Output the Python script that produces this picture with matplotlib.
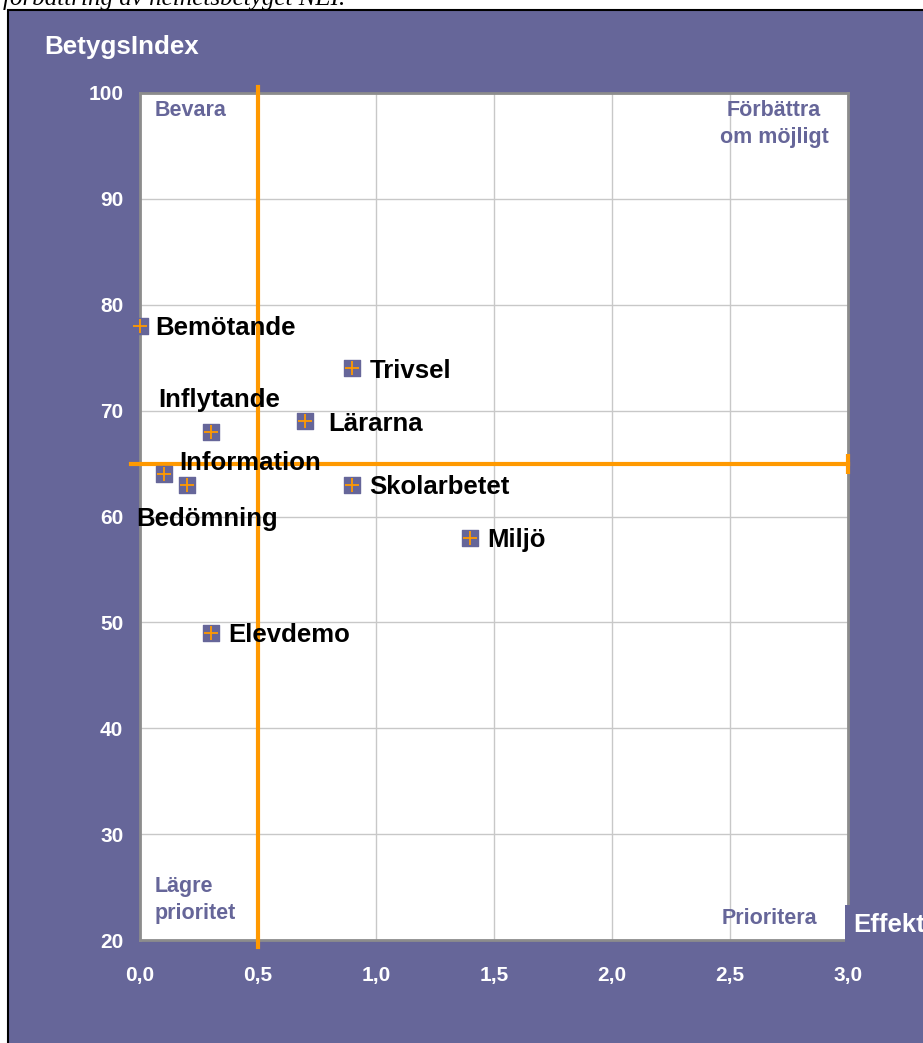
import matplotlib.pyplot as plt
from matplotlib.patches import Rectangle
from matplotlib.ticker import FuncFormatter

# data
omraden = ['Bemötande', 'Trivsel', 'Inflytande', 'Lärarna', 'Information',
           'Bedömning', 'Skolarbetet', 'Miljö', 'Elevdemo']
effekt = [0.0, 0.9, 0.3, 0.7, 0.1, 0.2, 0.9, 1.4, 0.3]
betygsindex = [78, 74, 68, 69, 64, 63, 63, 58, 49]
nei_index = 65
effekt_grans = 0.5

# label offsets (pixels) for each point
lbl_off = [(15, 0), (17, 0), (-53, 34), (23, 0), (16, 14), (-51, -32), (17, 0), (17, 0), (17, 0)]

purple = '#666699'
orange = '#FF9900'
plt.rcParams['font.family'] = ['Liberation Sans', 'DejaVu Sans']

fig = plt.figure(figsize=(9.23, 10.43), dpi=100)
fig.patch.set_facecolor('white')
bg = Rectangle((8 / 923, -0.01), 1.0, 1 - 9.5 / 1043 + 0.01, transform=fig.transFigure,
               facecolor=purple, edgecolor='black', lw=1.5, zorder=-10)
fig.patches.append(bg)
fig.text(3 / 923, 1 - 5 / 1043, 'förbättring av helhetsbetyget NEI.', family='Liberation Serif',
         style='italic', fontsize=18, va='baseline', ha='left')

ax = fig.add_axes([140 / 923, 1 - 940 / 1043, 708 / 923, 847 / 1043])
ax.set_facecolor('white')
ax.set_xlim(0, 3)
ax.set_ylim(20, 100)
ax.set_xticks([0, 0.5, 1, 1.5, 2, 2.5, 3])
ax.set_yticks(range(20, 101, 10))
ax.xaxis.set_major_formatter(FuncFormatter(lambda v, p: '{:.1f}'.format(v).replace('.', ',')))
ax.grid(True, color='#c8c8c8', lw=1)
ax.set_axisbelow(True)
for s in ax.spines.values():
    s.set_color('#8c8c8c')
    s.set_linewidth(2)
ax.tick_params(length=0, labelcolor='white', labelsize=15)
ax.tick_params(axis='x', pad=19)
ax.tick_params(axis='y', pad=12)
for t in ax.get_xticklabels() + ax.get_yticklabels():
    t.set_fontweight('bold')

# quadrant lines
ax.plot([effekt_grans, effekt_grans], [19.3, 100.6], color=orange, lw=3, clip_on=False, zorder=3)
ax.plot([-0.04, 3.0], [nei_index, nei_index], color=orange, lw=3, clip_on=False, zorder=3)
ax.plot([3.0], [nei_index], marker='|', ms=14, mew=3, color=orange, clip_on=False, zorder=3)

# points
ax.scatter(effekt, betygsindex, marker='s', s=140, color=purple, clip_on=False, zorder=4)
ax.scatter(effekt, betygsindex, marker='+', s=110, color=orange, lw=1.3, clip_on=False, zorder=5)
for namn, x, y, off in zip(omraden, effekt, betygsindex, lbl_off):
    ax.annotate(namn, (x, y), xytext=off, textcoords='offset pixels', ha='left',
                va='center_baseline', fontsize=18.5, fontweight='bold', color='black', zorder=6)

# quadrant names
qstyle = dict(color=purple, fontsize=15.5, fontweight='bold', transform=ax.transAxes)
ax.text(15 / 708, 1 - 17 / 847, 'Bevara', ha='left', va='center', **qstyle)
ax.text(634 / 708, 1 - 31 / 847, 'Förbättra\nom möjligt', ha='center', va='center',
        multialignment='center', linespacing=1.35, **qstyle)
ax.text(15 / 708, 1 - 807 / 847, 'Lägre\nprioritet', ha='left', va='center',
        linespacing=1.35, **qstyle)
ax.text(582 / 708, 1 - 826 / 847, 'Prioritera', ha='left', va='center', **qstyle)

# axis titles
fig.text(44 / 923, 1 - 47 / 1043, 'BetygsIndex', color='white', fontsize=18.7,
         fontweight='bold', ha='left', va='center')
fig.text(853 / 923, 1 - 925 / 1043, 'Effekt', color='white', fontsize=18.5, fontweight='bold',
         ha='left', va='center',
         bbox=dict(boxstyle='square,pad=0.3', facecolor=purple, edgecolor='none'))

plt.savefig('out.png', dpi=100)
